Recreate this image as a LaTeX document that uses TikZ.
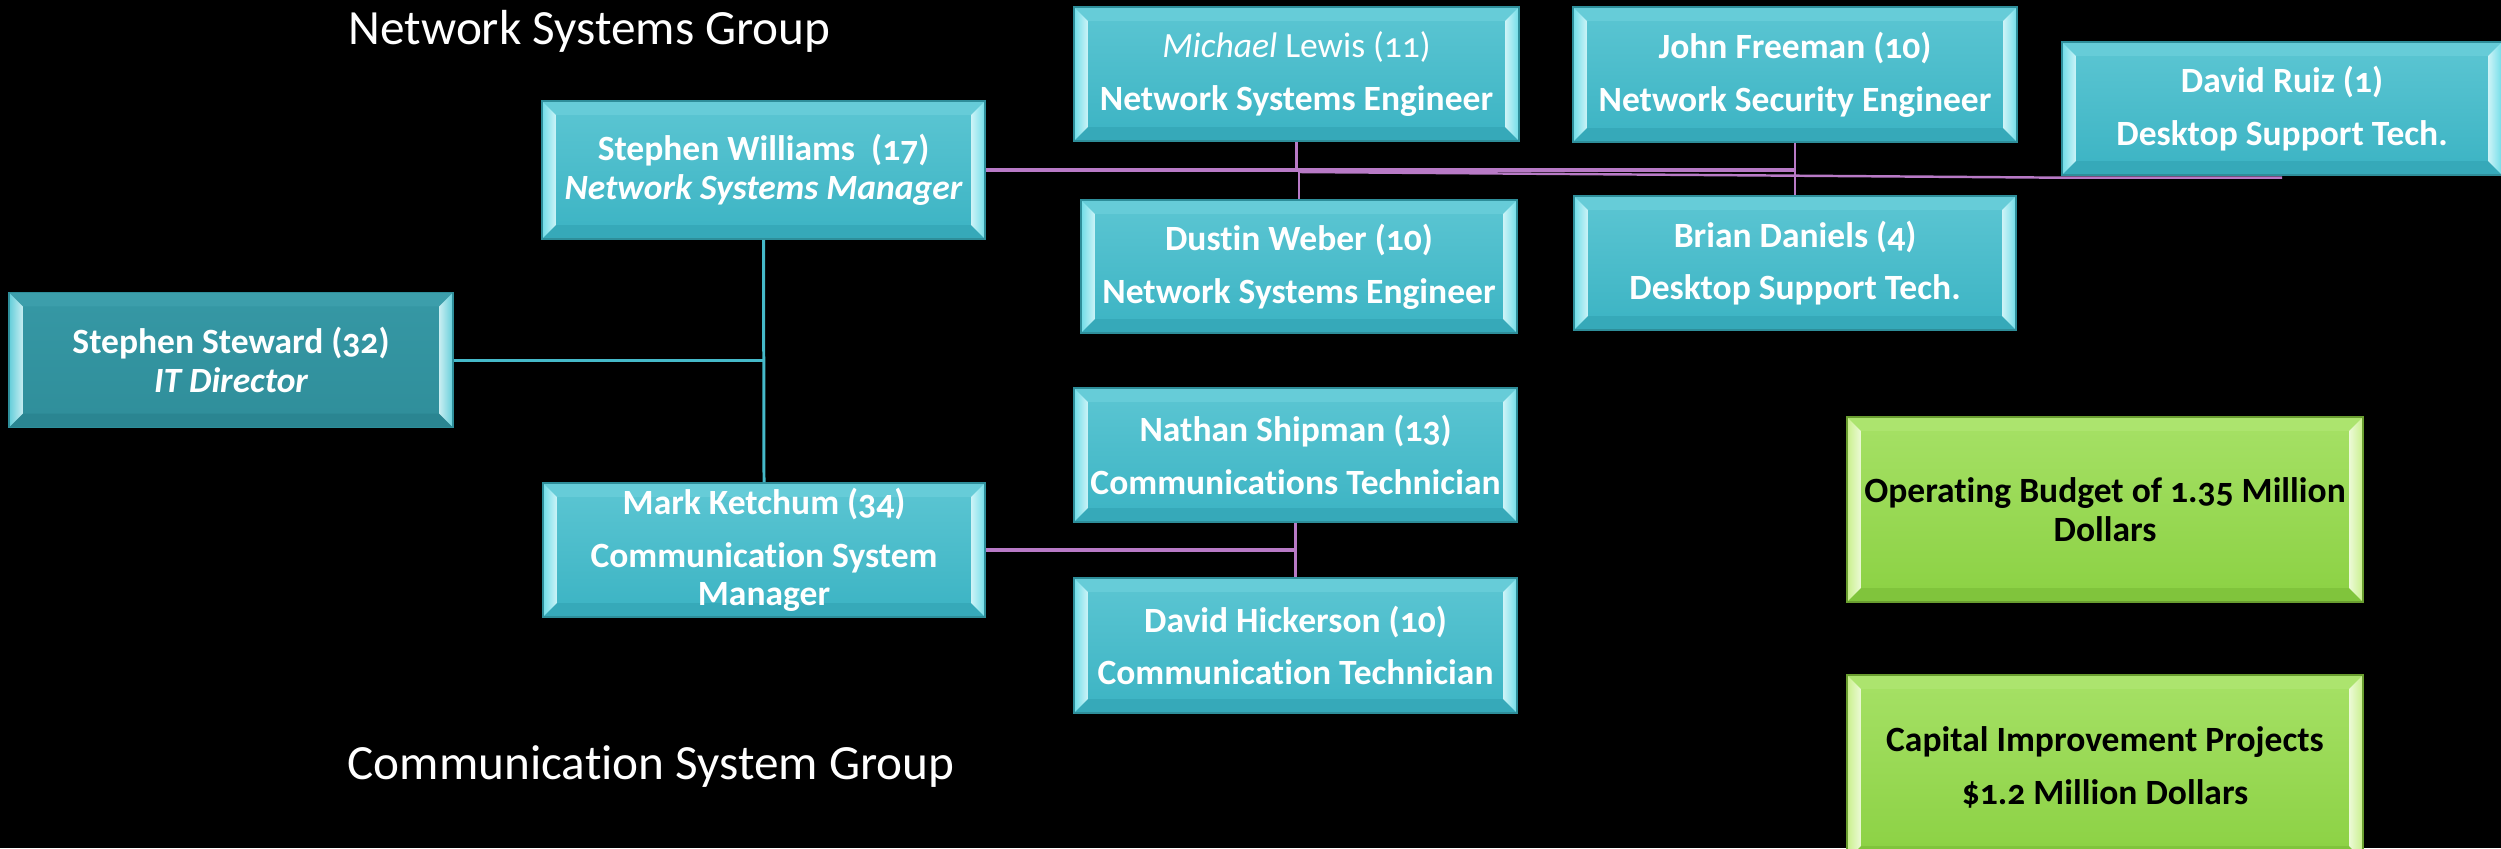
\documentclass[tikz,border=0pt]{standalone}
\usepackage{fontspec}
\setmainfont{Carlito}[Numbers=OldStyle,Ligatures=NoCommon]
\usetikzlibrary{calc}
\definecolor{tealtop}{HTML}{5CC6D3}
\definecolor{tealbot}{HTML}{3BB3C3}
\definecolor{tealtopb}{HTML}{66CCD8}
\definecolor{tealbotb}{HTML}{36A9B9}
\definecolor{tealhi}{HTML}{6FDDE8}
\definecolor{tealedge}{HTML}{2E8E9A}
\definecolor{dtop}{HTML}{3698A5}
\definecolor{dbot}{HTML}{2F8E9A}
\definecolor{dtopb}{HTML}{3C9EAB}
\definecolor{dbotb}{HTML}{2A8591}
\definecolor{dhi}{HTML}{62CDD9}
\definecolor{gtop}{HTML}{A6E166}
\definecolor{gbot}{HTML}{8BD143}
\definecolor{gtopb}{HTML}{ACE46E}
\definecolor{gbotb}{HTML}{80C43C}
\definecolor{ghi}{HTML}{C8F08A}
\definecolor{gedge}{HTML}{6A9E30}
\definecolor{plink}{HTML}{B87AC6}
\definecolor{tlink}{HTML}{45B9C9}
\newcommand\mybevel[3]{%
  \coordinate (@nw) at (path picture bounding box.north west);
  \coordinate (@ne) at (path picture bounding box.north east);
  \coordinate (@sw) at (path picture bounding box.south west);
  \coordinate (@se) at (path picture bounding box.south east);
  \fill[#2] (@nw) -- (@ne) -- ([shift={(-0.14cm,-0.14cm)}]@ne) -- ([shift={(0.14cm,-0.14cm)}]@nw) -- cycle;
  \fill[#3] (@sw) -- (@se) -- ([shift={(-0.14cm,0.14cm)}]@se) -- ([shift={(0.14cm,0.14cm)}]@sw) -- cycle;
  \shade[left color=#1, right color=#1!35!white] (@nw) -- ([shift={(0.14cm,-0.14cm)}]@nw) -- ([shift={(0.14cm,0.14cm)}]@sw) -- (@sw) -- cycle;
  \shade[left color=#1!35!white, right color=#1] (@ne) -- ([shift={(-0.14cm,-0.14cm)}]@ne) -- ([shift={(-0.14cm,0.14cm)}]@se) -- (@se) -- cycle;
}
\tikzset{
  box/.style={rectangle, inner sep=0pt, align=center, line width=0.5pt,
    font=\fontsize{10.1}{11}\selectfont\bfseries},
  tealbox/.style={box, draw=tealedge, top color=tealtop, bottom color=tealbot, text=white,
    path picture={\mybevel{tealhi}{tealtopb}{tealbotb}}},
  darkbox/.style={box, draw=tealedge, top color=dtop, bottom color=dbot, text=white,
    path picture={\mybevel{dhi}{dtopb}{dbotb}}},
  greenbox/.style={box, draw=gedge, top color=gtop, bottom color=gbot, text=black,
    path picture={\mybevel{ghi}{gtopb}{gbotb}}},
  grouplabel/.style={anchor=base west, inner sep=0pt, text=white, font=\fontsize{14}{16}\selectfont},
  tline/.style={draw=tlink, line width=0.85pt},
  pline/.style={draw=plink, line width=1.1pt},
  pthin/.style={draw=plink, line width=0.7pt},
}
\begin{document}
\begin{tikzpicture}[x=0.01cm,y=-0.01cm]
\fill[black] (0,0) rectangle (2501,848);
\useasboundingbox (0,0) rectangle (2501,848);

\node[grouplabel] (nsg) at (348,44) {Network Systems Group};
\node[grouplabel] (csg) at (347,779) {Communication System Group};

\node[darkbox, minimum width=4.44cm, minimum height=1.35cm] (steward) at (231,360)
  {Stephen Steward (32)\\\itshape IT Director};
\node[tealbox, minimum width=4.43cm, minimum height=1.38cm] (sw) at (763.5,170)
  {Stephen Williams\ \ (17)\\\itshape Network Systems Manager};
\node[tealbox, minimum width=4.42cm, minimum height=1.34cm] (mk) at (764,550)
  {Mark Ketchum (34)\\[4pt]Communication System\\Manager};
\node[tealbox, minimum width=4.45cm, minimum height=1.34cm] (ml) at (1296.5,74)
  {{\mdseries\textit{Michael} Lewis (11)}\\[4pt]Network Systems Engineer};
\node[tealbox, minimum width=4.36cm, minimum height=1.33cm] (dw) at (1299,266.5)
  {Dustin Weber (10)\\[4pt]Network Systems Engineer};
\node[tealbox, minimum width=4.44cm, minimum height=1.35cm] (jf) at (1795,74.5)
  {John Freeman (10)\\[4pt]Network Security Engineer};
\node[tealbox, minimum width=4.42cm, minimum height=1.34cm] (bd) at (1795,263)
  {Brian Daniels (4)\\[4pt]Desktop Support Tech.};
\node[tealbox, minimum width=4.40cm, minimum height=1.33cm] (dr) at (2282,108.5)
  {David Ruiz (1)\\[4pt]Desktop Support Tech.};
\node[tealbox, minimum width=4.43cm, minimum height=1.34cm] (ns) at (1295.5,455)
  {Nathan Shipman (13)\\[4pt]Communications Technician};
\node[tealbox, minimum width=4.43cm, minimum height=1.35cm] (dh) at (1295.5,645.5)
  {David Hickerson (10)\\[4pt]Communication Technician};
\node[greenbox, minimum width=5.16cm, minimum height=1.85cm] (ob) at (2105,509.5)
  {Operating Budget of 1.35 Million\\Dollars};
\node[greenbox, minimum width=5.16cm, minimum height=1.85cm] (cip) at (2105,767.5)
  {Capital Improvement Projects\\[4pt]\$1.2 Million Dollars};

% teal connectors
\draw[tline] (sw.south) -- (mk.north);
\draw[tline] (steward.east) -- (steward.east -| sw.south);

% purple connectors
\draw[pline] (sw.east) -- (jf.south |- sw.east);
\draw[pthin] (ml.south) -- (ml.south |- sw.east);
\draw[pthin] (dw.north) -- (dw.north |- sw.east);
\draw[pthin] (jf.south) -- (bd.north);
\coordinate (k) at (1300,172);
\draw[pthin] (k) -- ([yshift=-0.5pt]dr.south west) -- ([yshift=-0.5pt]dr.south);
\draw[pline] (mk.east) -- (mk.east -| ns.south);
\draw[pthin] (ns.south) -- (dh.north);
\end{tikzpicture}
\end{document}
